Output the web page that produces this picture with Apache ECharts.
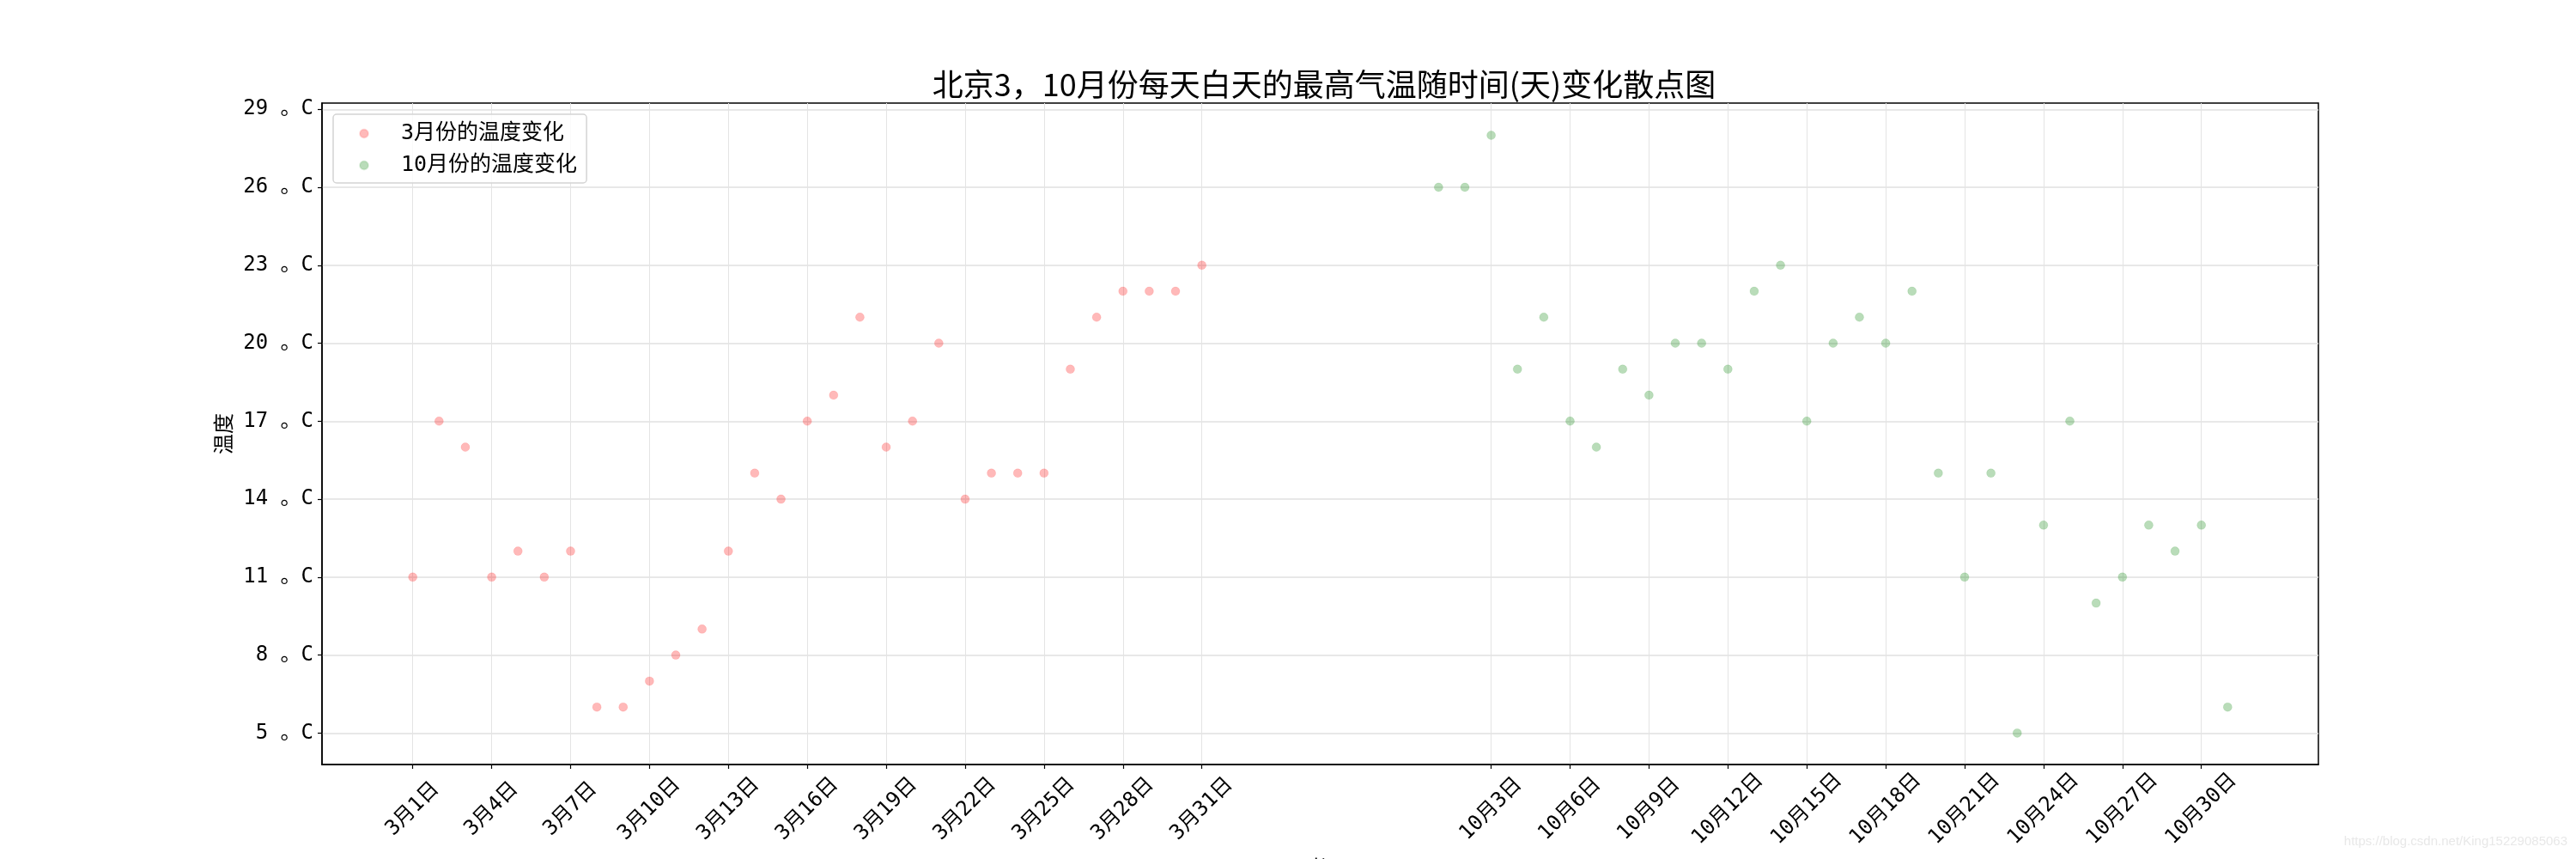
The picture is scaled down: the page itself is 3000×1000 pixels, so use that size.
<!DOCTYPE html>
<html>
<head>
<meta charset="utf-8">
<script src="https://cdn.jsdelivr.net/npm/echarts@6/dist/echarts.min.js"></script>
<style>
html,body{margin:0;padding:0;background:#fff;}
#chart{width:3000px;height:1000px;}
</style>
</head>
<body>
<div id="chart"></div>
<script>
// ---- data ----
const titleText = '北京3，10月份每天白天的最高气温随时间(天)变化散点图';
const seriesNames = ['3月份的温度变化', '10月份的温度变化'];
const marchDays = [1,2,3,4,5,6,7,8,9,10,11,12,13,14,15,16,17,18,19,20,21,22,23,24,25,26,27,28,29,30,31];
const marchTemps = [11,17,16,11,12,11,12,6,6,7,8,9,12,15,14,17,18,21,16,17,20,14,15,15,15,19,21,22,22,22,23];
const octDays = [1,2,3,4,5,6,7,8,9,10,11,12,13,14,15,16,17,18,19,20,21,22,23,24,25,26,27,28,29,30,31];
const octTemps = [26,26,28,19,21,17,16,19,18,20,20,19,22,23,17,20,21,20,22,15,11,15,5,13,17,10,11,13,12,13,6];
const octOffset = 39; // October days placed after a gap on the day axis
const marchTickDays = [1,4,7,10,13,16,19,22,25,28,31];
const octTickDays = [3,6,9,12,15,18,21,24,27,30];
const xTickLabels = ['3月1日','3月4日','3月7日','3月10日','3月13日','3月16日','3月19日','3月22日','3月25日','3月28日','3月31日',
  '10月3日','10月6日','10月9日','10月12日','10月15日','10月18日','10月21日','10月24日','10月27日','10月30日'];
const yTicks = [5,8,11,14,17,20,23,26,29];
const yName = '温度';
const xName = '时间';
const watermark = 'https://blog.csdn.net/King15229085063';

// ---- derived ----
const xTickPos = marchTickDays.concat(octTickDays.map(d => d + octOffset));
const labelMap = {};
xTickPos.forEach((p, i) => { labelMap[p] = xTickLabels[i]; });
const marchData = marchDays.map((d, i) => [d, marchTemps[i]]);
const octData = octDays.map((d, i) => [d + octOffset, octTemps[i]]);

const tickFont = '"DejaVu Sans Mono", "Noto Sans CJK SC", monospace';
const chart = echarts.init(document.getElementById('chart'), null, {renderer: 'canvas'});
chart.setOption({
  backgroundColor: '#ffffff',
  animation: false,
  title: {
    text: titleText,
    left: 1537,
    textAlign: 'center',
    top: 75,
    textStyle: {fontSize: 36, fontWeight: 'normal', color: '#000', fontFamily: '"Noto Sans CJK SC", sans-serif'}
  },
  grid: {
    left: 375, top: 120, right: 300, bottom: 110,
    show: true, borderColor: '#000', borderWidth: 1.5,
    containLabel: false, outerBoundsMode: 'none'
  },
  legend: {
    left: 388, top: 133,
    orient: 'vertical',
    itemWidth: 10, itemHeight: 10, itemGap: 12,
    padding: [10, 11, 8, 30],
    backgroundColor: 'rgba(255,255,255,0.8)',
    borderColor: '#d4d4d4', borderWidth: 1.5, borderRadius: 4,
    icon: 'circle',
    textStyle: {fontSize: 25, color: '#000', fontFamily: tickFont, padding: [0, 0, 0, 33]},
    data: seriesNames
  },
  xAxis: {
    type: 'value',
    min: -2.45, max: 73.45,
    name: xName,
    nameLocation: 'middle',
    nameGap: 108,
    nameTextStyle: {fontSize: 24, color: '#000', fontFamily: '"Noto Sans CJK SC", sans-serif', verticalAlign: 'top'},
    axisLine: {show: true, onZero: false, lineStyle: {color: '#000', width: 1.5}},
    axisTick: {show: true, inside: false, length: 5, customValues: xTickPos, lineStyle: {color: '#000', width: 1.2}},
    axisLabel: {
      customValues: xTickPos,
      rotate: 45, align: 'center', verticalAlign: 'middle', margin: 52,
      fontSize: 24, color: '#000', fontFamily: tickFont,
      formatter: v => labelMap[Math.round(v)] || ''
    },
    splitLine: {show: true, lineStyle: {color: '#e4e4e4', width: 1}}
  },
  yAxis: {
    type: 'value',
    min: 3.79, max: 29.24,
    name: yName,
    nameLocation: 'middle',
    nameGap: 96,
    nameRotate: 90,
    nameTextStyle: {fontSize: 24, color: '#000', fontFamily: '"Noto Sans CJK SC", sans-serif'},
    axisLine: {show: true, onZero: false, lineStyle: {color: '#000', width: 1.5}},
    axisTick: {show: true, inside: false, length: 5, customValues: yTicks, lineStyle: {color: '#000', width: 1.2}},
    axisLabel: {
      customValues: yTicks,
      margin: 10,
      fontSize: 24, color: '#000', fontFamily: tickFont,
      formatter: v => Math.round(v) + ' 。C'
    },
    splitLine: {show: true, lineStyle: {color: '#e0e0e0', width: 1.5}}
  },
  graphic: [{
    type: 'text', right: 10, top: 972,
    style: {text: watermark, fontSize: 15, fill: '#e8e8e8', fontFamily: '"Liberation Sans", Arial, sans-serif'}
  }],
  series: [
    {
      name: seriesNames[0], type: 'scatter', symbol: 'circle', symbolSize: 10,
      itemStyle: {color: 'rgba(255,0,0,0.34)', borderColor: 'rgba(255,0,0,0.12)', borderWidth: 1},
      data: marchData
    },
    {
      name: seriesNames[1], type: 'scatter', symbol: 'circle', symbolSize: 10,
      itemStyle: {color: 'rgba(0,128,0,0.34)', borderColor: 'rgba(0,128,0,0.12)', borderWidth: 1},
      data: octData
    }
  ]
});
</script>
</body>
</html>
